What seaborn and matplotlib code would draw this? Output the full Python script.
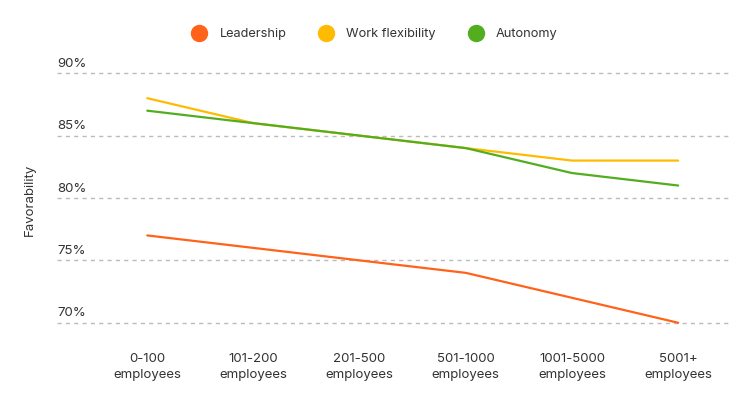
import matplotlib
matplotlib.use("Agg")
from matplotlib import pyplot as plt
from matplotlib.lines import Line2D
import matplotlib.transforms as mtransforms
import seaborn as sns
import pandas as pd

categories = ["0-100\nemployees", "101-200\nemployees", "201-500\nemployees",
              "501-1000\nemployees", "1001-5000\nemployees", "5001+\nemployees"]
leadership = [77, 76, 75, 74, 72, 70]
work_flexibility = [88, 86, 85, 84, 83, 83]
autonomy = [87, 86, 85, 84, 82, 81]
y_ticks = [70, 75, 80, 85, 90]

series = {"Leadership": leadership, "Work flexibility": work_flexibility, "Autonomy": autonomy}
colors = {"Leadership": "#FF6319", "Work flexibility": "#FFBB00", "Autonomy": "#52AE1F"}

rows = []
for name, vals in series.items():
    for i, v in enumerate(vals):
        rows.append({"pos": i, "value": v, "series": name})
df = pd.DataFrame(rows)

sns.set_style("white")
plt.rcParams["font.family"] = ["Inter", "DejaVu Sans"]

fig = plt.figure(figsize=(7.5, 4), dpi=100)
ax = fig.add_axes([0.076, 0.1775, 0.899, 0.6425])

sns.lineplot(data=df, x="pos", y="value", hue="series", palette=colors,
             linewidth=1.6, legend=False, ax=ax)

ax.set_xlim(-0.85, 5.5)
ax.set_ylim(69.5, 90.1)
for s in ax.spines.values():
    s.set_visible(False)

for t in y_ticks:
    ax.axhline(t, color="#BBBBBB", linestyle=(0, (3, 3)), linewidth=1, zorder=0)

ax.set_yticks(y_ticks)
ax.set_yticklabels([])
ax.tick_params(axis="y", length=0)
trans = mtransforms.blended_transform_factory(ax.transAxes, ax.transData)
for t in y_ticks:
    ax.text(0.0, t + 0.28, f"{t}%", transform=trans, ha="left", va="bottom",
            fontsize=9.5, color="#333333")

ax.set_xticks(range(len(categories)))
ax.set_xticklabels(categories, fontsize=9.5, color="#333333", linespacing=1.4)
ax.tick_params(axis="x", length=0, pad=17.5)
ax.set_xlabel("")
ax.set_ylabel("")
fig.text(0.04, 0.5, "Favorability", rotation=90, ha="center", va="center",
         fontsize=9.5, color="#333333")

handles = [Line2D([], [], marker="o", linestyle="", markersize=11.5,
                  markerfacecolor=colors[n], markeredgecolor=colors[n], label=n)
           for n in series]
fig.legend(handles=handles, loc="center", bbox_to_anchor=(0.496, 0.915), ncol=3,
           frameon=False, fontsize=9.2, handletextpad=0.6, columnspacing=2.1,
           labelcolor="#333333")

fig.savefig("out.png", dpi=100)
